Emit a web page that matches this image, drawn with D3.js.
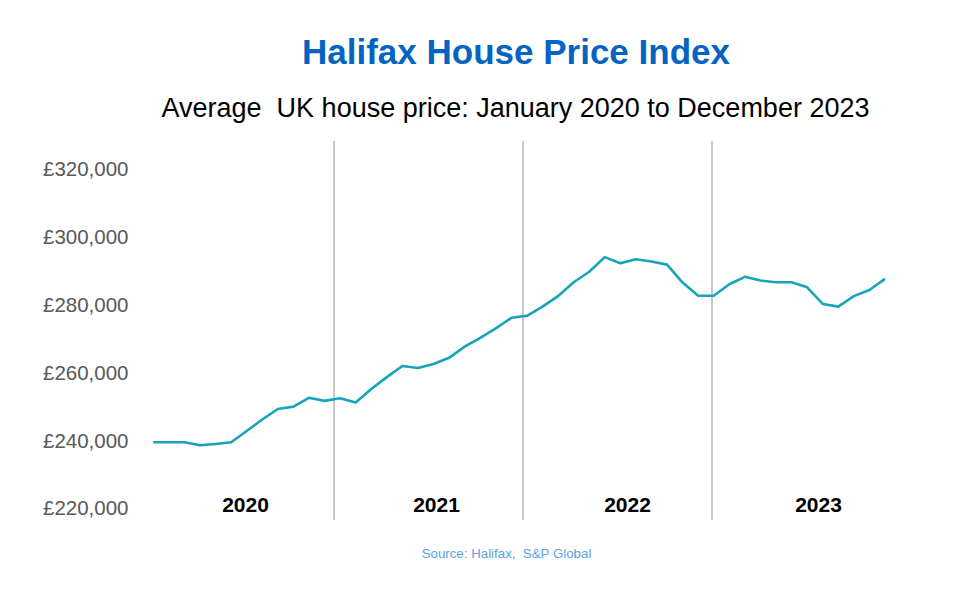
<!DOCTYPE html>
<html lang="en">

<head>
    <meta charset="utf-8">
    <title>Halifax House Price Index</title>
    <style>
        body {
            margin: 0;
            background: #fff;
        }
        svg {
            font-family: "Liberation Sans", Arial, sans-serif;
        }
        .y.axis text {
            font-size: 20.5px;
            fill: #595959;
        }
        .year-label {
            font-size: 21px;
            font-weight: bold;
            fill: #000;
        }
        .separator {
            stroke: #a6a6a6;
            stroke-width: 1.2px;
        }
        .price-line {
            fill: none;
            stroke: #17a3b8;
            stroke-width: 2.6px;
            stroke-linejoin: round;
        }
    </style>
</head>

<body>
    <script src="https://cdn.jsdelivr.net/npm/d3@7"></script>
    <script>
        // monthly average house price, Jan 2020 - Dec 2023
        const years = ["2020", "2021", "2022", "2023"];
        const months = years.flatMap(y => d3.range(1, 13).map(m => `${y}-${String(m).padStart(2, "0")}`));
        const prices = [
            239250, 239250, 239250, 238350, 238750, 239250, 242550, 245950, 249050, 249750, 252350, 251450,
            252250, 250950, 254950, 258450, 261750, 261150, 262350, 264150, 267450, 270050, 272850, 275950,
            276550, 279250, 282350, 286450, 289550, 293850, 292050, 293250, 292550, 291650, 286350, 282450,
            282450, 285850, 288050, 286950, 286450, 286450, 284950, 280050, 279250, 282350, 284150, 287450
        ];
        const y_ticks = [220000, 240000, 260000, 280000, 300000, 320000];

        const width = 959,
            height = 607;

        const svg = d3.select("body")
            .append("svg")
                .attr("width", width)
                .attr("height", height);

        // titles
        svg.append("text")
            .attr("x", 516)
            .attr("y", 64)
            .attr("text-anchor", "middle")
            .attr("font-size", "35px")
            .attr("font-weight", "bold")
            .attr("fill", "#0563c1")
            .text("Halifax House Price Index");

        svg.append("text")
            .attr("x", 515.5)
            .attr("y", 117)
            .attr("text-anchor", "middle")
            .attr("font-size", "27px")
            .attr("fill", "#000")
            .attr("xml:space", "preserve")
            .text("Average  UK house price: January 2020 to December 2023");

        // scales
        const x_scale = d3.scalePoint()
            .domain(months)
            .range([153.3, 885]);
        const y_scale = d3.scaleLinear()
            .domain([220000, 320000])
            .range([507.5, 168.5]);
        const sep_scale = d3.scaleBand()
            .domain(years)
            .range([145, 901]);
        const label_scale = d3.scaleBand()
            .domain(years)
            .range([150, 914]);

        // year separators
        svg.selectAll(".separator")
            .data(years.slice(1))
            .join("line")
                .attr("class", "separator")
                .attr("x1", d => sep_scale(d))
                .attr("x2", d => sep_scale(d))
                .attr("y1", 141)
                .attr("y2", 520);

        // y axis
        const y_axis = d3.axisLeft(y_scale)
            .tickValues(y_ticks)
            .tickSize(0)
            .tickPadding(0)
            .tickFormat(d => "£" + d3.format(",")(d));
        svg.append("g")
            .attr("class", "y axis")
            .attr("transform", "translate(128.5, 0)")
            .call(y_axis)
            .call(g => g.select(".domain").remove())
            .call(g => g.selectAll("text").attr("dy", "0.36em").attr("font-family", null).attr("font-size", null));

        // year labels
        svg.selectAll(".year-label")
            .data(years)
            .join("text")
                .attr("class", "year-label")
                .attr("x", d => label_scale(d) + label_scale.bandwidth() / 2)
                .attr("y", 512)
                .attr("text-anchor", "middle")
                .text(d => d);

        // price line
        const line = d3.line()
            .x((d, i) => x_scale(months[i]))
            .y(d => y_scale(d));
        svg.append("path")
            .datum(prices)
            .attr("class", "price-line")
            .attr("d", line);

        // source
        svg.append("text")
            .attr("x", 506.5)
            .attr("y", 558)
            .attr("text-anchor", "middle")
            .attr("font-size", "13.3px")
            .attr("fill", "#5ba3e0")
            .attr("xml:space", "preserve")
            .text("Source: Halifax,  S&P Global");
    </script>
</body>

</html>
